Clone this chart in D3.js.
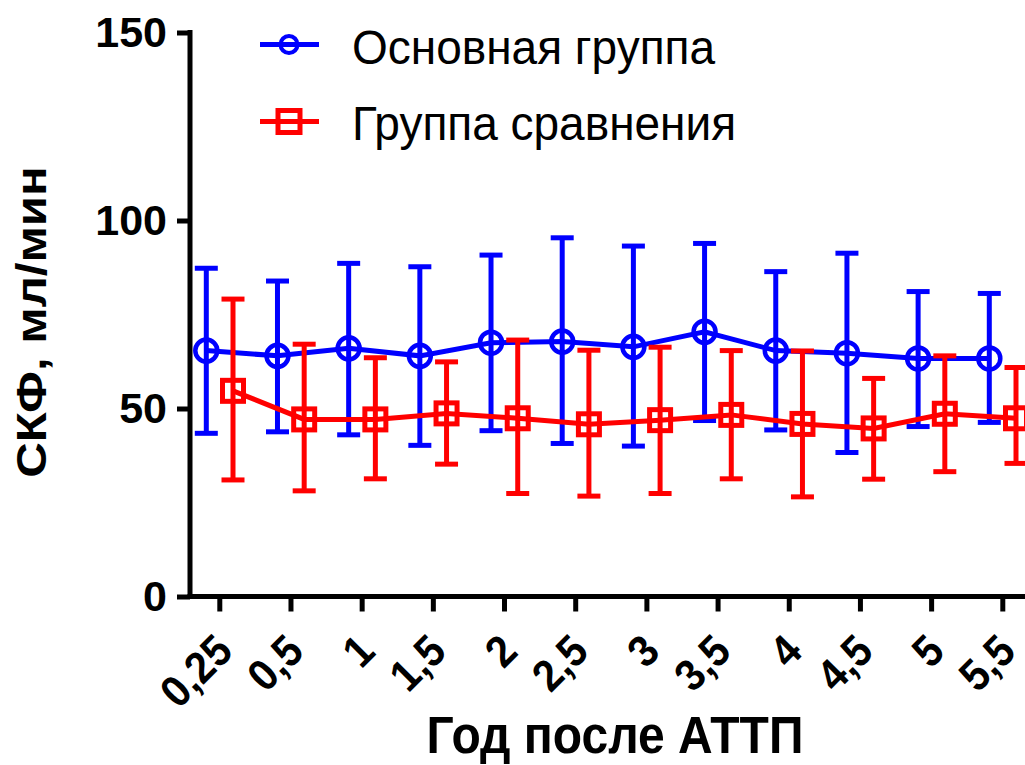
<!DOCTYPE html>
<html>
<head>
<meta charset="utf-8">
<script src="https://cdn.jsdelivr.net/npm/d3@7"></script>
<style>
  html, body { margin: 0; padding: 0; background: #fff; }
  svg { display: block; }
  text { font-family: "Liberation Sans", Arial, sans-serif; }
</style>
</head>
<body>
<svg id="chart" width="1025" height="765"></svg>
<script>
// ---- data ----
const categories = ["0,25", "0,5", "1", "1,5", "2", "2,5", "3", "3,5", "4", "4,5", "5", "5,5"];
const yTicks = [0, 50, 100, 150];
const seriesNames = ["Основная группа", "Группа сравнения"];

const mainMean  = [65.4, 64.0, 66.0, 64.0, 67.5, 67.8, 66.4, 70.4, 65.4, 64.7, 63.3, 63.3];
const mainLow   = [43.4, 43.8, 43.0, 40.2, 44.1, 40.7, 40.0, 46.8, 44.3, 38.3, 45.2, 46.3];
const mainHigh  = [87.3, 83.9, 88.6, 87.7, 90.8, 95.4, 93.2, 93.9, 86.4, 91.3, 81.1, 80.6];

const compMean  = [54.7, 47.1, 47.1, 48.7, 47.4, 45.8, 46.9, 48.3, 45.9, 44.7, 48.6, 47.4];
const compLow   = [31.0, 28.1, 31.3, 35.2, 27.4, 26.7, 27.4, 31.3, 26.5, 31.2, 33.2, 35.4];
const compHigh  = [79.1, 67.1, 63.5, 62.4, 68.2, 65.5, 66.3, 65.4, 65.3, 58.0, 64.0, 60.9];

const xTitle = "Год после АТТП";
const yTitle = "СКФ, мл/мин";

// ---- layout ----
const svg = d3.select("#chart");
const axisX0 = 190, axisY0 = 596.5;

const x = d3.scalePoint().domain(categories).range([219.3, 1002.3]);
const y = d3.scaleLinear().domain([0, 150]).range([596.5, 32.5]);

const series = [
  { name: seriesNames[0], color: "#0000ff", mean: mainMean, low: mainLow, high: mainHigh, dx: -13, marker: "circle" },
  { name: seriesNames[1], color: "#ff0000", mean: compMean, low: compLow, high: compHigh, dx: 13.7, marker: "square" }
];

// ---- axes ----
const yAxis = d3.axisLeft(y).tickValues(yTicks).tickSize(13).tickPadding(10).tickFormat(d3.format("d"));
const gy = svg.append("g").attr("transform", `translate(${axisX0},0)`).call(yAxis);
gy.select(".domain").remove();
gy.selectAll(".tick line").attr("stroke", "#000").attr("stroke-width", 5);
gy.selectAll(".tick text").attr("font-size", 43).attr("font-weight", "bold").attr("fill", "#000")
  .attr("font-family", "'Liberation Sans', Arial, sans-serif");
svg.append("line").attr("x1", axisX0).attr("x2", axisX0).attr("y1", y(150) - 2.5).attr("y2", axisY0 + 2.5)
  .attr("stroke", "#000").attr("stroke-width", 5);

const xAxis = d3.axisBottom(x).tickSize(15).tickFormat(d => d);
const gx = svg.append("g").attr("transform", `translate(0,${axisY0})`).call(xAxis);
gx.select(".domain").remove();
gx.selectAll(".tick line").attr("stroke", "#000").attr("stroke-width", 5);
gx.selectAll(".tick text")
  .attr("font-size", 41).attr("font-weight", "bold").attr("fill", "#000")
  .attr("font-family", "'Liberation Sans', Arial, sans-serif")
  .attr("text-anchor", "end").attr("dy", null).attr("y", 0)
  .attr("transform", "translate(15,57) rotate(-45) scale(1,1.08)");
svg.append("line").attr("x1", axisX0 - 2.5).attr("x2", 1030).attr("y1", axisY0).attr("y2", axisY0)
  .attr("stroke", "#000").attr("stroke-width", 5);

// ---- titles ----
svg.append("text").attr("transform", "translate(615,753) scale(1,1.07)").attr("text-anchor", "middle")
  .attr("font-size", 48).attr("font-weight", "bold").text(xTitle);
svg.append("text").attr("transform", "translate(46,322) rotate(-90) scale(1.17,1)").attr("text-anchor", "middle")
  .attr("font-size", 42).attr("font-weight", "bold").text(yTitle);

// ---- series ----
function drawMarker(g, type, cx, cy, color, legend) {
  if (type === "circle") {
    g.append("circle").attr("cx", cx).attr("cy", cy).attr("r", legend ? 8.5 : 11)
      .attr("fill", "none").attr("stroke", color).attr("stroke-width", legend ? 4 : 4.5);
  } else {
    const s = legend ? 22 : 21;
    g.append("rect").attr("x", cx - s / 2).attr("y", cy - s / 2).attr("width", s).attr("height", s)
      .attr("fill", "none").attr("stroke", color).attr("stroke-width", 5);
  }
}

series.forEach(s => {
  const g = svg.append("g");
  const px = i => x(categories[i]) + s.dx;
  // error bars
  categories.forEach((c, i) => {
    g.append("line").attr("x1", px(i)).attr("x2", px(i)).attr("y1", y(s.low[i])).attr("y2", y(s.high[i]))
      .attr("stroke", s.color).attr("stroke-width", 5);
    [s.low[i], s.high[i]].forEach(v => {
      g.append("line").attr("x1", px(i) - 11.5).attr("x2", px(i) + 11.5).attr("y1", y(v)).attr("y2", y(v))
        .attr("stroke", s.color).attr("stroke-width", 5);
    });
  });
  // connecting line
  const line = d3.line().x((d, i) => px(i)).y(d => y(d));
  g.append("path").datum(s.mean).attr("d", line).attr("fill", "none")
    .attr("stroke", s.color).attr("stroke-width", 5).attr("stroke-linejoin", "miter");
  // markers
  s.mean.forEach((v, i) => drawMarker(g, s.marker, px(i), y(v), s.color, false));
});

// ---- legend ----
const legendRows = [
  { s: series[0], y: 44.5, ty: 64 },
  { s: series[1], y: 121.5, ty: 140 }
];
legendRows.forEach(r => {
  const g = svg.append("g");
  g.append("line").attr("x1", 260).attr("x2", 319).attr("y1", r.y).attr("y2", r.y)
    .attr("stroke", r.s.color).attr("stroke-width", 5);
  drawMarker(g, r.s.marker, 289, r.y, r.s.color, true);
  g.append("text").attr("transform", `translate(352,${r.ty}) scale(1,1.06)`)
    .attr("font-size", 46).attr("fill", "#000").text(r.s.name);
});
</script>
</body>
</html>
